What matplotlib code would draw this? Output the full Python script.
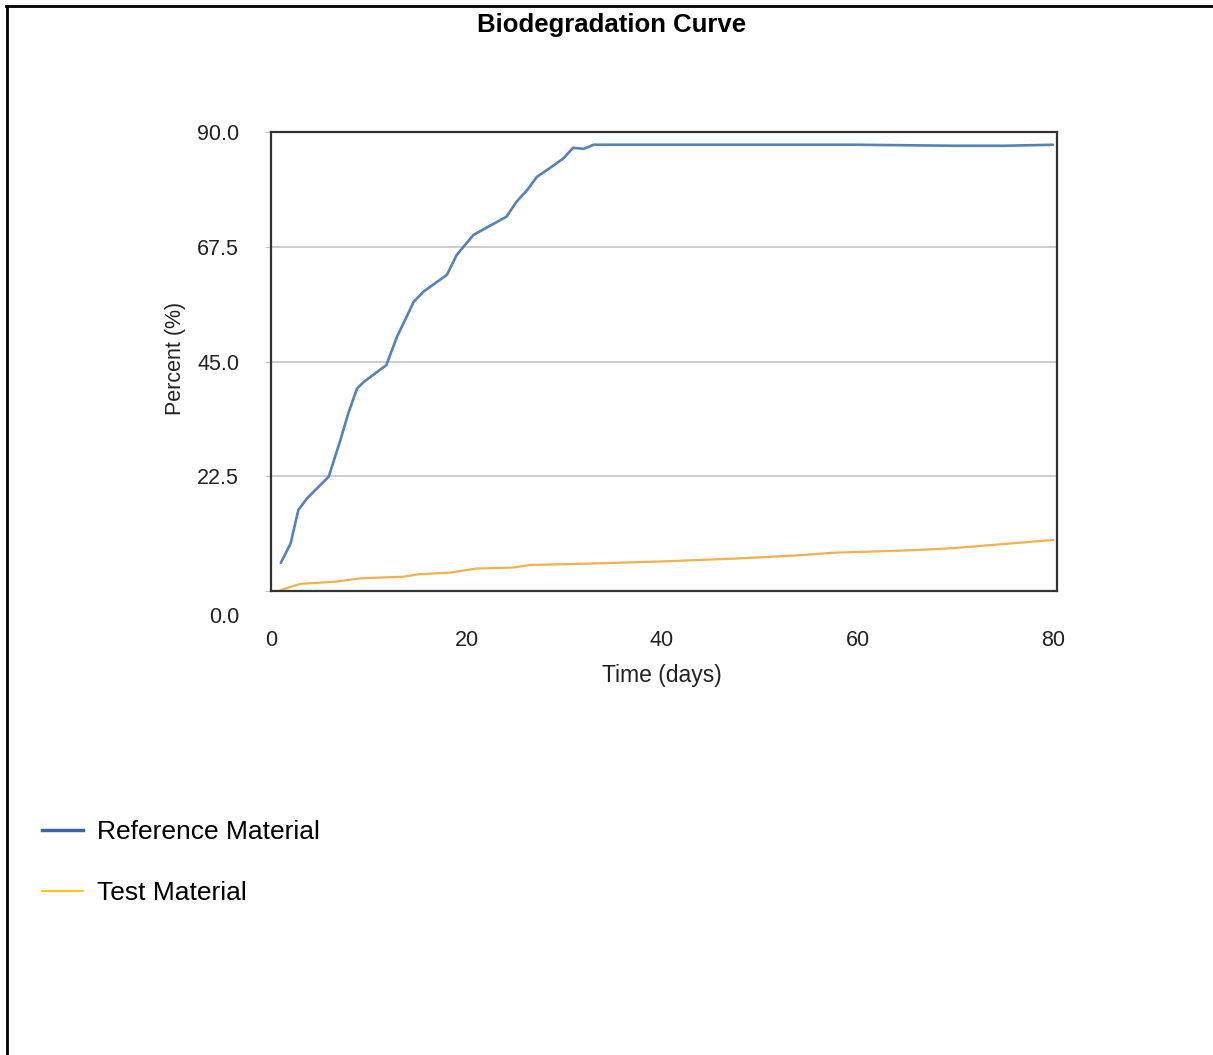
import matplotlib
matplotlib.use("Agg")
import matplotlib.pyplot as plt
from matplotlib.lines import Line2D
import matplotlib.transforms as mtransforms

# ---- data ----
days_ref = [1, 2, 2.8, 3.7, 5.9, 7.1, 7.9, 8.8, 9.5, 11.8, 12.9, 14.6, 15.6, 18.0, 19.0,
            20.7, 22.1, 24.1, 25.1, 26.2, 27.2, 28.5, 29.9, 30.9, 32.0, 33.0, 40, 50, 60,
            65, 70, 75, 80]
ref_values = [5.5, 9.3, 15.9, 18.2, 22.4, 29.6, 34.8, 39.7, 41.0, 44.3, 49.9, 56.7, 58.7,
              62.0, 65.9, 69.8, 71.3, 73.4, 76.3, 78.6, 81.2, 82.9, 84.8, 86.9, 86.7, 87.5,
              87.5, 87.5, 87.5, 87.4, 87.3, 87.3, 87.5]
days_test = [1, 3, 6.4, 9.3, 13.5, 15.2, 18.3, 21.0, 24.8, 26.5, 33, 40, 48, 54, 57.5,
             65.7, 69.8, 80]
test_values = [0.2, 1.4, 1.8, 2.5, 2.8, 3.3, 3.6, 4.4, 4.6, 5.1, 5.4, 5.8, 6.4, 7.0, 7.5,
               8.0, 8.4, 10.0]
y_ticks = [0.0, 22.5, 45.0, 67.5, 90.0]
x_ticks = [0, 20, 40, 60, 80]
series_labels = ["Reference Material", "Test Material"]

W, H = 1213, 1055
fig = plt.figure(figsize=(W / 100, H / 100), dpi=100)
fig.patch.set_facecolor("white")

ax = fig.add_axes([271 / W, 1 - 591 / H, (1057 - 271) / W, (591 - 132) / H])
ax.plot(days_ref, ref_values, color="#5582b9", lw=1.9, solid_joinstyle="round",
        solid_capstyle="round")
ax.plot(days_test, test_values, color="#f3b04e", lw=1.6, solid_joinstyle="round")

ax.set_xlim(0, 80.41)
ax.set_ylim(0, 90)
ax.set_yticks(y_ticks)
ax.set_yticklabels([f"{v:.1f}" for v in y_ticks])
ax.set_xticks(x_ticks)
ax.set_xticklabels([str(v) for v in x_ticks])

for s in ax.spines.values():
    s.set_color("#333333")
    s.set_linewidth(1.6)

ax.grid(axis="y", color="#c4c4c4", lw=1.2)
ax.set_axisbelow(True)
ax.tick_params(axis="y", length=4, color="#c4c4c4", pad=19, labelsize=15.5,
               labelcolor="#222222")
ax.tick_params(axis="x", length=0, pad=28, labelcolor="#222222")
for lab in ax.get_yticklabels():
    lab.set_family(["Liberation Sans", "DejaVu Sans"])
for lab in ax.get_xticklabels():
    lab.set_family(["Liberation Sans Narrow", "Liberation Sans", "DejaVu Sans"])
    lab.set_fontsize(15.5)

# 0.0 label sits lower in the reference
ylabs = ax.get_yticklabels()
off = mtransforms.ScaledTranslation(0, -24 / 100, fig.dpi_scale_trans)
ylabs[0].set_transform(ylabs[0].get_transform() + off)

ax.set_xlabel("Time (days)", fontsize=16.5, color="#222222",
              family=["Liberation Sans Narrow", "Liberation Sans", "DejaVu Sans"])
ax.xaxis.set_label_coords((662 - 271) / 786, (591 - 664) / 459)
ax.set_ylabel("Percent (%)", fontsize=15.5, color="#222222",
              family=["Liberation Sans", "DejaVu Sans"])
ax.yaxis.set_label_coords((186 - 271) / 786, (591 - 358) / 459)

fig.text(612 / W, 1 - 25 / H, "Biodegradation Curve", ha="center", va="center",
         fontsize=18.5, fontweight="bold", family=["Liberation Sans", "DejaVu Sans"])

handles = [Line2D([], [], color="#3c66a3", lw=2.5),
           Line2D([], [], color="#ffc000", lw=1.3)]
leg = fig.legend(handles, series_labels, loc="upper left",
                 bbox_to_anchor=(42 / W, 1 - 820 / H), frameon=False,
                 borderpad=0, borderaxespad=0, handlelength=1.55,
                 handletextpad=0.52, labelspacing=1.4,
                 prop={"family": ["Liberation Sans", "DejaVu Sans"], "size": 19})

# outer figure border (top and left visible)
fig.add_artist(Line2D([6 / W, 1], [1 - 6 / H, 1 - 6 / H], transform=fig.transFigure,
                      color="black", lw=2))
fig.add_artist(Line2D([7 / W, 7 / W], [0, 1 - 6 / H], transform=fig.transFigure,
                      color="black", lw=2))

fig.savefig("out.png", dpi=100, facecolor="white")
